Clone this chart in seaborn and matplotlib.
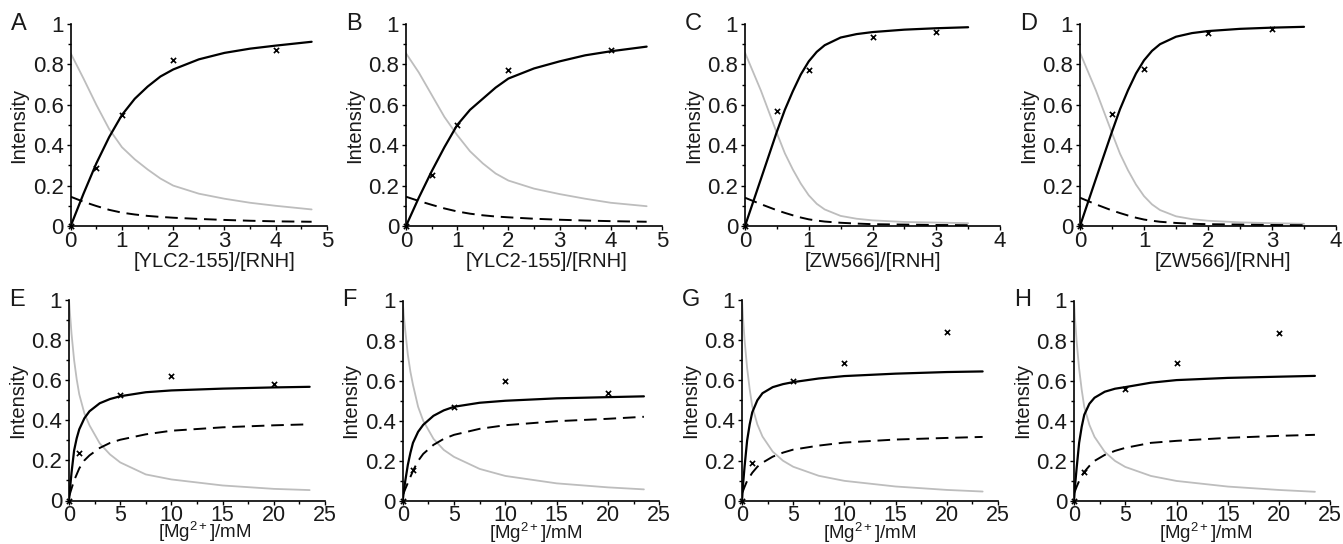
import matplotlib
matplotlib.use("Agg")
import matplotlib.pyplot as plt
import seaborn as sns
from matplotlib.ticker import MultipleLocator, FixedLocator, FixedFormatter

# ---------------- data ----------------
x_ylc = [0, 0.25, 0.5, 0.75, 1, 1.25, 1.5, 1.75, 2, 2.5, 3, 3.5, 4, 4.7]
x_zw = [0, 0.25, 0.5, 0.625, 0.75, 0.875, 1, 1.125, 1.25, 1.5, 1.75, 2, 2.5, 3, 3.5]
x_mg = [0, 0.1, 0.25, 0.5, 0.75, 1, 1.5, 2, 3, 4, 5, 7.5, 10, 15, 20, 23.5]

A_black = [0, 0.16, 0.31, 0.44, 0.55, 0.63, 0.69, 0.74, 0.775, 0.825, 0.857, 0.878, 0.893, 0.912]
A_gray = [0.855, 0.73, 0.60, 0.48, 0.39, 0.33, 0.28, 0.235, 0.20, 0.16, 0.135, 0.115, 0.10, 0.082]
A_dash = [0.145, 0.12, 0.099, 0.08, 0.066, 0.057, 0.05, 0.045, 0.041, 0.035, 0.03, 0.026, 0.023, 0.021]

B_black = [0, 0.14, 0.27, 0.39, 0.50, 0.575, 0.63, 0.685, 0.73, 0.78, 0.815, 0.845, 0.865, 0.888]
B_gray = [0.855, 0.76, 0.65, 0.54, 0.45, 0.37, 0.31, 0.26, 0.225, 0.185, 0.158, 0.135, 0.115, 0.098]
B_dash = [0.145, 0.124, 0.105, 0.087, 0.072, 0.061, 0.053, 0.047, 0.043, 0.036, 0.031, 0.027, 0.024, 0.021]

C_black = [0, 0.233, 0.467, 0.575, 0.667, 0.75, 0.815, 0.862, 0.895, 0.933, 0.95, 0.96, 0.972, 0.979, 0.984]
C_gray = [0.858, 0.67, 0.46, 0.36, 0.28, 0.21, 0.152, 0.11, 0.082, 0.05, 0.036, 0.028, 0.02, 0.017, 0.014]
C_dash = [0.14, 0.108, 0.078, 0.065, 0.053, 0.042, 0.033, 0.027, 0.022, 0.016, 0.012, 0.009, 0.007, 0.005, 0.004]

D_black = [0, 0.235, 0.467, 0.578, 0.672, 0.755, 0.82, 0.867, 0.90, 0.937, 0.955, 0.965, 0.976, 0.982, 0.986]
D_gray = [0.858, 0.67, 0.46, 0.358, 0.276, 0.205, 0.148, 0.107, 0.079, 0.048, 0.034, 0.026, 0.018, 0.014, 0.011]
D_dash = [0.14, 0.107, 0.077, 0.064, 0.052, 0.041, 0.032, 0.026, 0.021, 0.015, 0.011, 0.009, 0.007, 0.005, 0.004]

E_black = [0, 0.06, 0.14, 0.25, 0.31, 0.355, 0.41, 0.445, 0.485, 0.506, 0.52, 0.54, 0.549, 0.558, 0.564, 0.567]
E_gray = [1.0, 0.93, 0.83, 0.70, 0.605, 0.53, 0.435, 0.375, 0.285, 0.23, 0.19, 0.13, 0.105, 0.075, 0.058, 0.052]
E_dash = [0.02, 0.035, 0.06, 0.10, 0.13, 0.16, 0.20, 0.225, 0.262, 0.287, 0.303, 0.33, 0.348, 0.365, 0.375, 0.38]

F_black = [0, 0.045, 0.10, 0.18, 0.24, 0.29, 0.345, 0.38, 0.425, 0.452, 0.47, 0.49, 0.50, 0.512, 0.518, 0.522]
F_gray = [1.0, 0.93, 0.85, 0.73, 0.645, 0.58, 0.47, 0.40, 0.31, 0.255, 0.22, 0.16, 0.125, 0.088, 0.068, 0.058]
F_dash = [0.03, 0.04, 0.06, 0.09, 0.12, 0.15, 0.20, 0.235, 0.28, 0.31, 0.33, 0.36, 0.378, 0.398, 0.41, 0.42]

G_black = [0, 0.08, 0.17, 0.30, 0.38, 0.44, 0.50, 0.535, 0.565, 0.58, 0.59, 0.608, 0.62, 0.632, 0.64, 0.643]
G_gray = [1.0, 0.91, 0.80, 0.66, 0.555, 0.47, 0.38, 0.32, 0.245, 0.20, 0.17, 0.125, 0.10, 0.072, 0.055, 0.047]
G_dash = [0.04, 0.05, 0.07, 0.10, 0.12, 0.14, 0.17, 0.19, 0.22, 0.24, 0.255, 0.275, 0.29, 0.305, 0.313, 0.318]

H_black = [0, 0.075, 0.16, 0.29, 0.37, 0.43, 0.485, 0.515, 0.545, 0.56, 0.568, 0.59, 0.603, 0.614, 0.62, 0.624]
H_gray = [1.0, 0.91, 0.80, 0.66, 0.555, 0.47, 0.38, 0.32, 0.245, 0.20, 0.17, 0.125, 0.10, 0.072, 0.055, 0.046]
H_dash = [0.04, 0.05, 0.07, 0.10, 0.125, 0.145, 0.175, 0.20, 0.23, 0.25, 0.265, 0.29, 0.30, 0.315, 0.325, 0.33]

pts_x_ylc = [0, 0.5, 1, 2, 4]
pts_x_zw = [0, 0.5, 1, 2, 3]
pts_x_mg = [0, 1, 5, 10, 20]
A_pts = [0, 0.288, 0.551, 0.822, 0.872]
B_pts = [0, 0.252, 0.502, 0.773, 0.872]
C_pts = [0, 0.567, 0.774, 0.934, 0.959]
D_pts = [0, 0.552, 0.777, 0.954, 0.975]
E_pts = [0, 0.237, 0.524, 0.622, 0.580]
F_pts = [0, 0.154, 0.469, 0.597, 0.541]
G_pts = [0, 0.187, 0.595, 0.683, 0.840]
H_pts = [0, 0.144, 0.558, 0.687, 0.836]

panel_letters = ["A", "B", "C", "D", "E", "F", "G", "H"]
xlabels = ["[YLC2-155]/[RNH]", "[YLC2-155]/[RNH]", "[ZW566]/[RNH]", "[ZW566]/[RNH]",
           "[Mg$\\mathregular{^{2+}}$]/mM", "[Mg$\\mathregular{^{2+}}$]/mM",
           "[Mg$\\mathregular{^{2+}}$]/mM", "[Mg$\\mathregular{^{2+}}$]/mM"]
ylabel = "Intensity"
y_ticks = [0, 0.2, 0.4, 0.6, 0.8, 1.0]
y_tick_labels = ["0", "0.2", "0.4", "0.6", "0.8", "1"]

# ---------------- style ----------------
sns.set_style("ticks")
plt.rcParams["font.family"] = ["Liberation Sans", "DejaVu Sans"]
plt.rcParams["mathtext.fontset"] = "custom"
plt.rcParams["mathtext.rm"] = "Liberation Sans"
plt.rcParams["mathtext.it"] = "Liberation Sans:italic"
plt.rcParams["mathtext.bf"] = "Liberation Sans:bold"

fig = plt.figure(figsize=(13.43, 5.44), dpi=100)
W, H = 1343.0, 544.0

# axes pixel boxes: (left, top of y=1, right, bottom y=0)
boxes = [
    (70.7, 24, 327, 226), (406, 24, 662, 226), (745, 24, 1000, 226), (1080, 24, 1336, 226),
    (69, 300, 325, 500.5), (402.7, 300.5, 659.3, 501), (742, 299.5, 998, 501), (1074, 300.5, 1330.3, 501),
]
xlab_pos = [0.56, 0.55, 0.50, 0.56, 0.53, 0.52, 0.50, 0.515]

panels = [
    (x_ylc, A_black, A_gray, A_dash, pts_x_ylc, A_pts, 5, 1, 0.5),
    (x_ylc, B_black, B_gray, B_dash, pts_x_ylc, B_pts, 5, 1, 0.5),
    (x_zw, C_black, C_gray, C_dash, pts_x_zw, C_pts, 4, 1, 0.5),
    (x_zw, D_black, D_gray, D_dash, pts_x_zw, D_pts, 4, 1, 0.5),
    (x_mg, E_black, E_gray, E_dash, pts_x_mg, E_pts, 25, 5, 2.5),
    (x_mg, F_black, F_gray, F_dash, pts_x_mg, F_pts, 25, 5, 2.5),
    (x_mg, G_black, G_gray, G_dash, pts_x_mg, G_pts, 25, 5, 2.5),
    (x_mg, H_black, H_gray, H_dash, pts_x_mg, H_pts, 25, 5, 2.5),
]

for i, (xc, yb, yg, yd, xp, yp, xmax, xmaj, xmin) in enumerate(panels):
    l, t, r, b = boxes[i]
    bottom_row = i >= 4
    ax = fig.add_axes([l / W, (H - b) / H, (r - l) / W, (b - t) / H])
    sns.lineplot(x=xc, y=yg, ax=ax, color="#bdbdbd", lw=1.3, estimator=None, sort=False)
    sns.lineplot(x=xc, y=yd, ax=ax, color="black", lw=1.4, estimator=None, sort=False,
                 linestyle=(0, (6.5, 3.5)))
    sns.lineplot(x=xc, y=yb, ax=ax, color="black", lw=1.6, estimator=None, sort=False)
    sns.scatterplot(x=xp, y=yp, ax=ax, marker="x", s=14, color="black", linewidth=1.2,
                    clip_on=False, zorder=5)
    ax.set_xlim(0, xmax)
    ax.set_ylim(0, 1)
    ax.xaxis.set_major_locator(MultipleLocator(xmaj))
    ax.xaxis.set_minor_locator(MultipleLocator(xmin))
    ax.yaxis.set_major_locator(FixedLocator(y_ticks))
    ax.yaxis.set_major_formatter(FixedFormatter(y_tick_labels))
    ax.yaxis.set_minor_locator(MultipleLocator(0.1))
    sns.despine(ax=ax)
    for s in ("left", "bottom"):
        ax.spines[s].set_linewidth(1.2)
        ax.spines[s].set_color("black")
    ax.tick_params(axis="both", which="major", direction="out", length=3, width=1.0,
                   labelsize=16, color="black", labelcolor="#1a1a1a")
    ax.tick_params(axis="x", which="major", pad=0 if bottom_row else 0.5,
                   labelsize=15.5 if bottom_row else 16)
    ax.tick_params(axis="y", which="major", pad=2)
    ax.tick_params(axis="both", which="minor", direction="out", length=2.5, width=1.0,
                   color="black")
    ax.set_xlabel(xlabels[i], fontsize=13.5 if bottom_row else 14.5, color="#1a1a1a")
    ax.set_ylabel(ylabel, fontsize=14.5, color="#1a1a1a")
    ax.xaxis.set_label_coords(xlab_pos[i], -0.128 if not bottom_row else -0.098)
    ax.yaxis.set_label_coords(-0.165, 0.5)
    ax.text(-0.235, 1.0, panel_letters[i], transform=ax.transAxes, fontsize=17,
            ha="left", va="center", color="#1a1a1a")
    ax.set_facecolor("white")

fig.savefig("out.png", dpi=100, facecolor="white")
